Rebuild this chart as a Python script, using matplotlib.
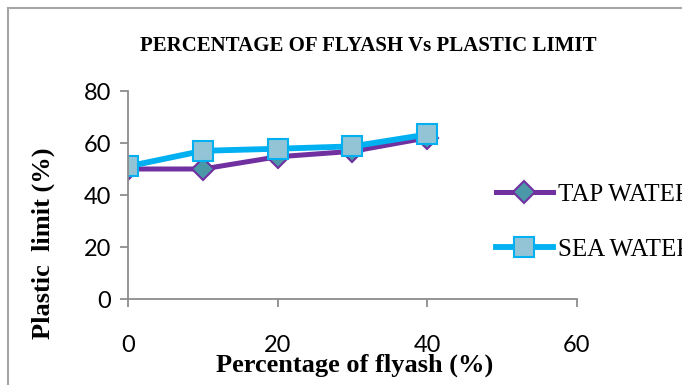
import matplotlib.pyplot as plt
from matplotlib.patches import Rectangle

flyash = [0, 10, 20, 30, 40]
tap_water = [50, 50, 54.7, 56.8, 62]
sea_water = [51, 57, 57.8, 58.7, 63.3]
series_names = ["TAP WATER", "SEA WATER"]

fig = plt.figure(figsize=(6.82, 3.85), dpi=100)
ax = fig.add_axes([128 / 682, 1 - 299 / 385, 449 / 682, 208 / 385])

ax.plot(flyash, tap_water, color="#7030A0", lw=3.6, marker="D", ms=11,
        mfc="#4A98A8", mec="#7030A0", mew=1.5, label=series_names[0])
ax.plot(flyash, sea_water, color="#00B0F0", lw=4.2, marker="s", ms=14,
        mfc="#93C4D6", mec="#00B0F0", mew=1.5, label=series_names[1])

ax.set_xlim(0, 60)
ax.set_ylim(0, 80)
ax.set_xticks([0, 20, 40, 60])
ax.set_yticks([0, 20, 40, 60, 80])
for s in ["top", "right"]:
    ax.spines[s].set_visible(False)
for s in ["left", "bottom"]:
    ax.spines[s].set_color("#8c8c8c")
    ax.spines[s].set_linewidth(1.3)
ax.tick_params(colors="#8c8c8c", length=6, width=1.3, labelcolor="black", labelsize=17)
ax.tick_params(axis="x", pad=20)
ax.tick_params(axis="y", pad=6)
for lab in ax.get_xticklabels() + ax.get_yticklabels():
    lab.set_fontfamily("Lato")

fig.text(368 / 682, 1 - 46 / 385, "PERCENTAGE OF FLYASH Vs PLASTIC LIMIT",
         family="Liberation Serif", weight="bold", fontsize=15, ha="center", va="center")
fig.text(43 / 682, 1 - 243 / 385, "Plastic  limit (%)", rotation=90,
         family="Liberation Serif", weight="bold", fontsize=19, ha="center", va="center")
fig.text(355 / 682, 1 - 365 / 385, "Percentage of flyash (%)",
         family="Liberation Serif", weight="bold", fontsize=19, ha="center", va="center")

ax.legend(loc="upper left", bbox_to_anchor=(473 / 682, 1 - 161 / 385),
          bbox_transform=fig.transFigure, frameon=False, handlelength=2.3,
          handletextpad=0.2, labelspacing=1.28,
          prop={"family": "Liberation Serif", "size": 18})

fig.patches.append(Rectangle((8 / 682, -0.1), 1.2, 1 - 8 / 385 + 0.1, transform=fig.transFigure,
                             fill=False, ec="#a6a6a6", lw=1.5))

fig.savefig("out.png", dpi=100)
